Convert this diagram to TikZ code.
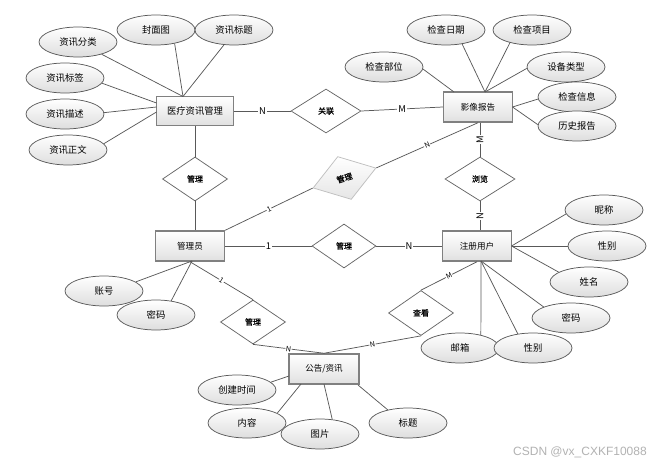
\documentclass[tikz,border=0pt]{standalone}
\usepackage{fontspec}
\setmainfont{Noto Sans CJK SC}
\newfontfamily\relfont[FakeBold=0.8]{Noto Sans CJK SC}
\newfontfamily\wmfont{Liberation Sans}
\usetikzlibrary{shapes.geometric}
\begin{document}
\begin{tikzpicture}[x=0.75pt,y=-0.75pt,
  ent/.style={rectangle, draw=black!50, line width=1.1pt, top color=white, bottom color=black!12,
    minimum width=51.75pt, minimum height=22.5pt, inner sep=1pt, font=\fontsize{6.4pt}{7pt}\selectfont},
  attr/.style={ellipse, draw=black!65, line width=0.55pt, top color=white, bottom color=black!13,
    minimum width=58.5pt, minimum height=22.5pt, inner sep=0pt, font=\fontsize{7pt}{8pt}\selectfont},
  rel/.style={diamond, draw=black!60, line width=0.55pt, fill=white, minimum width=48.75pt,
    minimum height=33pt, inner sep=0pt, font=\relfont\fontsize{6pt}{7pt}\selectfont},
  link/.style={draw=black!65, line width=0.55pt},
  card/.style={fill=white, inner sep=0.6pt, font=\fontsize{7pt}{8pt}\selectfont},
  scard/.style={fill=white, inner sep=0.4pt, font=\fontsize{5.4pt}{6pt}\selectfont, sloped},
]
\useasboundingbox (0,0) rectangle (658,467);
\fill[white] (0,0) rectangle (658,467);

% entities
\node[ent, minimum width=57.75pt, minimum height=21.75pt, font=\fontsize{7pt}{8pt}\selectfont] (med) at (195,111) {医疗资讯管理};
\node[ent] (ying) at (478,107) {影像报告};
\node[ent] (admin) at (190,246) {管理员};
\node[ent] (user) at (477,246) {注册用户};
\node[ent, minimum width=52.5pt] (gg) at (324,369) {公告/资讯};

% relationships
\node[rel, minimum width=52.5pt] (gl) at (326,111) {关联};
\node[rel] (gl1) at (195,179) {管理};
\node[rel, draw=black!25, top color=white, bottom color=black!10, minimum width=49.5pt, minimum height=33.75pt, rotate=17.6] (gl2) at (344.5,178) {管理};
\node[rel, minimum width=52.5pt] (ll) at (480,179) {浏览};
\node[rel, minimum width=48pt] (gl3) at (344,246) {管理};
\node[rel] (gl4) at (253,322) {管理};
\node[rel, minimum height=33.75pt] (ck) at (421,313) {查看};

% attributes of med
\node[attr] (fl) at (78,42) {资讯分类};
\node[attr] (fmt) at (156,30) {封面图};
\node[attr] (bt) at (234,30) {资讯标题};
\node[attr] (bq) at (65,78) {资讯标签};
\node[attr] (ms) at (65,114) {资讯描述};
\node[attr] (zw) at (68,150) {资讯正文};
\coordinate (medT) at (183,96.5);
\coordinate (medL1) at (156.5,103);
\coordinate (medL2) at (156.5,107);
\coordinate (medL3) at (156.5,112);

% attributes of ying
\node[attr] (rq) at (446,30) {检查日期};
\node[attr] (xm) at (532,30) {检查项目};
\node[attr] (bw) at (384,67) {检查部位};
\node[attr] (lx) at (566,67) {设备类型};
\node[attr] (xx) at (577,97) {检查信息};
\node[attr] (ls) at (577,126) {历史报告};
\coordinate (yTL) at (454,92);
\coordinate (yT) at (485,92);
\coordinate (yR) at (512.5,107);

% attributes of admin
\node[attr] (zh) at (104,291) {账号};
\node[attr] (mm) at (156,315) {密码};
\coordinate (aB) at (192,261);

% attributes of user
\node[attr] (nc) at (604,210) {昵称};
\node[attr] (xb) at (607,246) {性别};
\node[attr] (xmg) at (589,282) {姓名};
\node[attr] (mm2) at (571,318) {密码};
\node[attr] (yx) at (460,348) {邮箱};
\node[attr] (xb2) at (533,348) {性别};
\coordinate (uR) at (511.5,246);
\coordinate (uB) at (481,261);

% attributes of gg
\node[attr] (sj) at (237,390) {创建时间};
\node[attr] (nr) at (247,423) {内容};
\node[attr] (tp) at (320,434) {图片};
\node[attr] (bt2) at (408,423) {标题};
\coordinate (g1) at (289,376);
\coordinate (g2) at (301,384);
\coordinate (g3) at (324,384);
\coordinate (g4) at (358,385);

% attribute links
\draw[link] (fl) -- (medT);
\draw[link] (fmt.-36) -- (medT);
\draw[link] (bt.-124) -- (medT);
\draw[link] (bq.-8) -- (medL1);
\draw[link] (ms.2) -- (medL2);
\draw[link] (zw.10) -- (medL3);

\draw[link] (bw.-3) -- (yTL);
\draw[link] (rq.-41) -- (yT);
\draw[link] (xm.-150) -- (yT);
\draw[link] (lx.-178) -- (yT);
\draw[link] (xx.-177) -- (yR);
\draw[link] (ls.178) -- (yR);

\draw[link] (zh.16) -- (aB);
\draw[link] (mm.43) -- (aB);

\draw[link] (nc.-174) -- (uR);
\draw[link] (xb.west) -- (uR);
\draw[link] (xmg.162) -- (uR);
\draw[link] (mm2.158) -- (uB);
\draw[link] (yx.32) -- (uB);
\draw[link] (xb2.137) -- (uB);

\draw[link] (sj.13) -- (g1);
\draw[link] (nr.18) -- (g2);
\draw[link] (tp.50) -- (g3);
\draw[link] (bt2.147) -- (g4);

% relationship links
\draw[link] (med.east) -- node[card]{N} (gl.west);
\draw[link] (gl.east) -- node[card]{M} (ying.west);
\draw[link] (med.south) -- (gl1.north);
\draw[link] (gl1.south) -- (gl1.south |- admin.north);
\draw[link] (admin.north east) -- node[scard]{1} (gl2.west);
\draw[link] (gl2.east) -- node[scard]{N} (ying.south);
\draw[link] (ll.north |- ying.south) -- node[card, rotate=90]{M} (ll.north);
\draw[link] (ll.south) -- node[card, rotate=90]{N} (ll.south |- user.north);
\draw[link] (admin.east) -- node[card]{1} (gl3.west);
\draw[link] (gl3.east) -- node[card]{N} (user.west);
\draw[link] (admin.south) -- node[scard]{1} (gl4.north);
\draw[link] (gl4.south) -- node[scard]{N} (gg.north);
\draw[link] (ck.north) -- node[scard]{M} (user.south);
\draw[link] (ck.south) -- node[scard]{N} (gg.north);

% watermark
\node[anchor=east, text=black!30, font=\wmfont\fontsize{9pt}{10pt}\selectfont, inner sep=0pt] (wm) at (647,452) {CSDN @vx\_CXKF10088};
\end{tikzpicture}
\end{document}
